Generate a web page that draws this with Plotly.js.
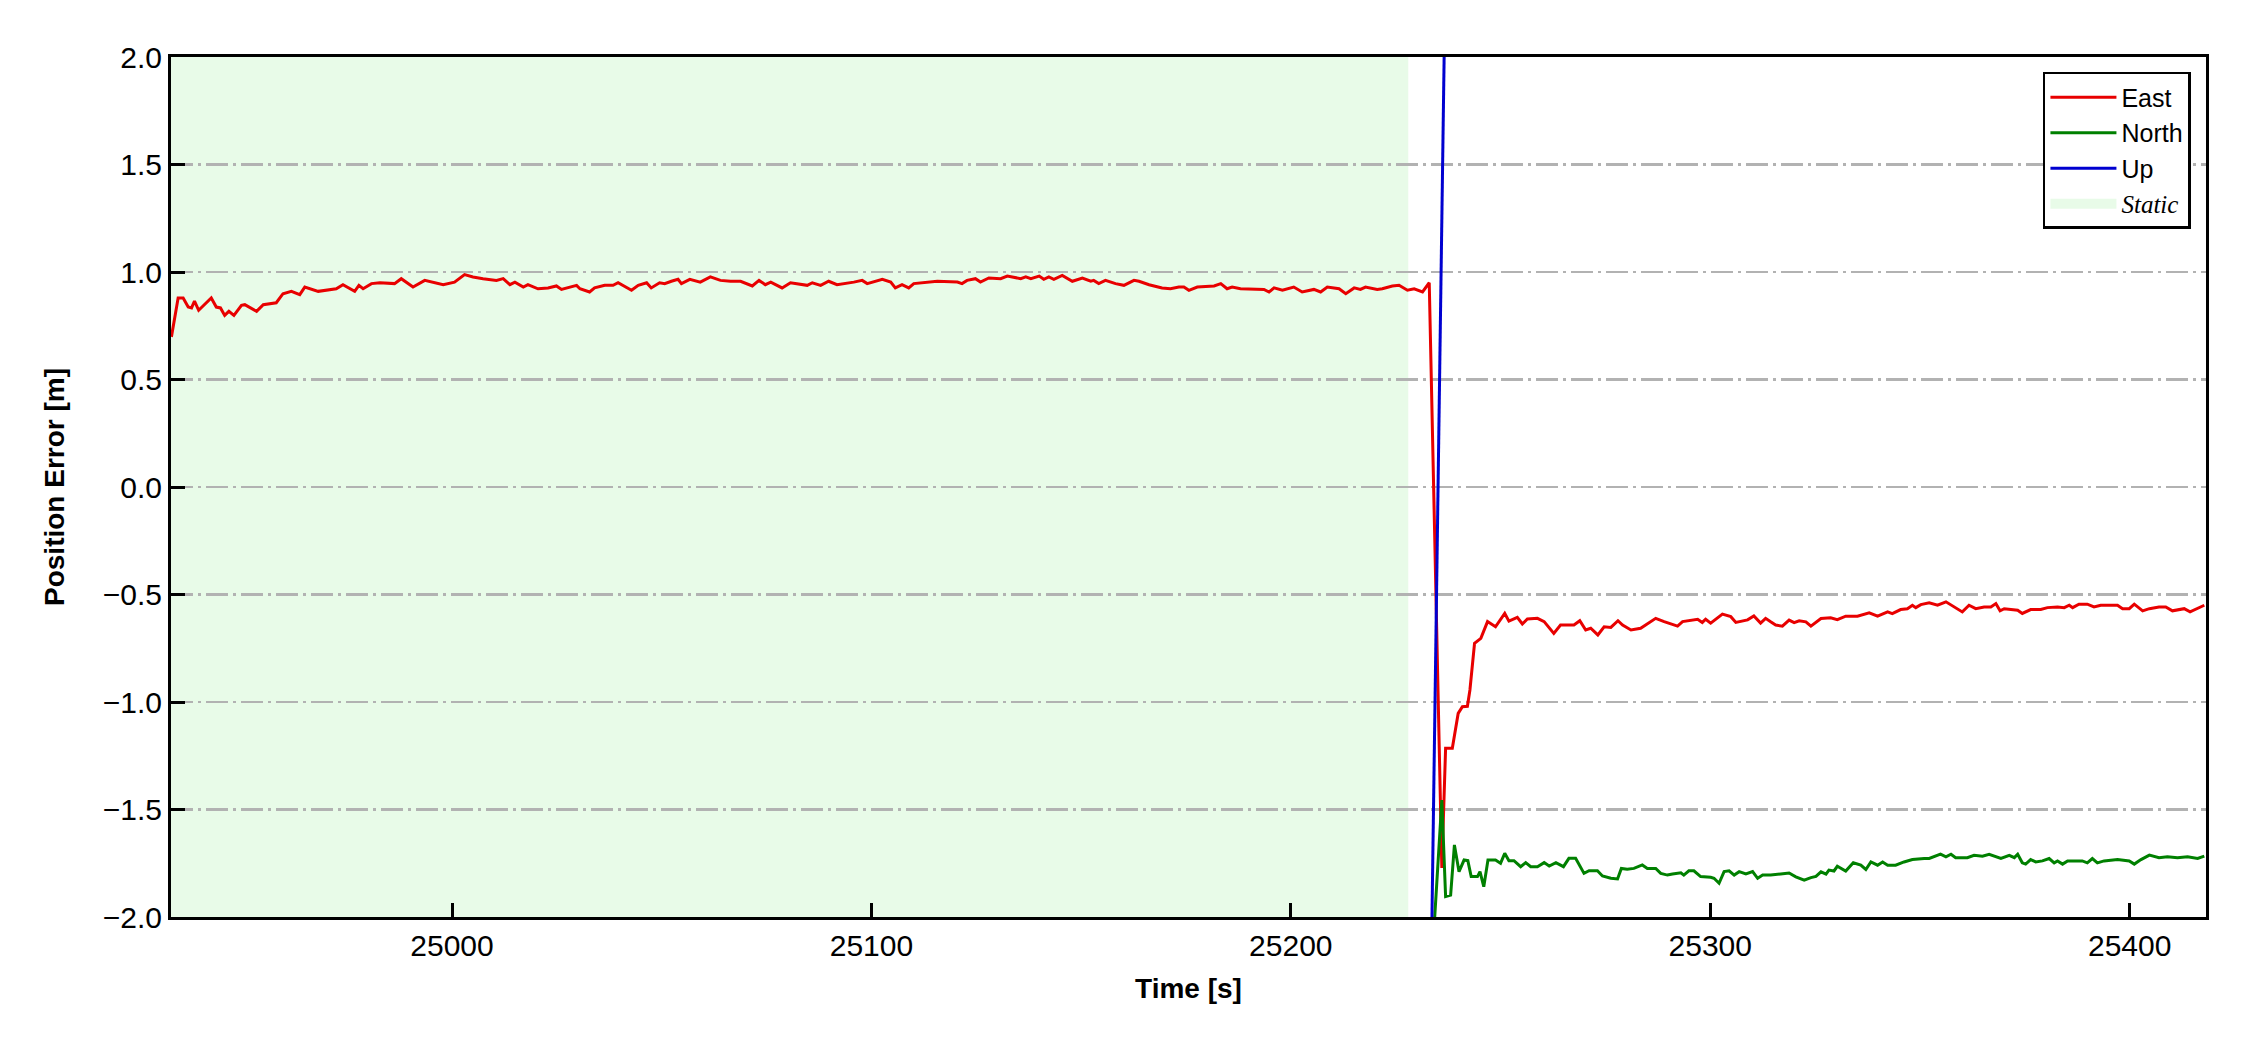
<!DOCTYPE html>
<html>
<head>
<meta charset="utf-8">
<script src="https://cdn.plot.ly/plotly-3.0.1.min.js"></script>
<style>html,body{margin:0;padding:0;background:#fff;}#chart{width:2250px;height:1050px;}</style>
</head>
<body>
<div id="chart"></div>
<script>
// ---- Data ----
const eastTime = [
  24933.1,24934.7,24935.9,24937.1,24937.9,24938.6,24939.6,24941.0,24942.6,24943.8,24944.8,24945.8,24946.8,24948.0,24949.8,24950.6,
  24953.4,24955.0,24958.1,24959.7,24961.7,24963.7,24964.9,24968.1,24972.4,24974.0,24976.8,24977.8,24978.8,24980.8,24982.8,24986.3,
  24987.9,24990.7,24993.5,24997.9,25000.6,25003.0,25005.0,25007.4,25010.6,25012.2,25013.8,25015.0,25017.0,25018.1,25020.5,25022.9,
  25024.9,25026.1,25028.5,25029.7,25030.5,25032.8,25034.0,25036.4,25038.4,25039.6,25042.8,25044.4,25046.4,25047.5,25049.5,25050.7,
  25052.3,25053.9,25054.7,25056.7,25059.2,25061.6,25064.0,25066.4,25068.8,25071.6,25073.2,25074.7,25076.0,25078.7,25080.7,25084.7,
  25085.9,25087.9,25089.8,25091.8,25095.8,25097.8,25099.0,25102.6,25104.6,25105.7,25107.3,25108.9,25110.1,25115.7,25120.5,25121.6,
  25122.8,25124.8,25126.0,25128.0,25130.8,25132.4,25135.6,25136.8,25138.0,25140.0,25141.1,25142.3,25143.5,25145.5,25147.9,25150.3,
  25152.3,25153.0,25154.2,25155.8,25158.2,25160.2,25162.6,25163.8,25166.2,25169.3,25171.3,25173.3,25174.5,25175.7,25177.7,25181.7,
  25183.3,25184.8,25186.0,25188.0,25193.6,25194.8,25196.0,25198.0,25200.7,25202.7,25205.5,25207.1,25208.7,25211.5,25213.1,25215.1,
  25216.6,25217.8,25220.6,25221.8,25224.2,25225.8,25227.8,25229.4,25231.4,25233.0,
  25236.0,25236.9,25238.5,25239.9,25240.9,25242.1,25242.7,25243.8,25245.3,25246.9,25248.8,25251.0,25252.0,25254.0,25255.2,25256.4,
  25258.8,25260.4,25262.7,25264.3,25267.5,25268.9,25270.3,25271.5,25273.2,25274.7,25276.3,25278.0,25279.1,25281.1,25283.4,25287.0,
  25289.0,25292.2,25293.4,25297.0,25298.1,25298.9,25300.1,25302.9,25304.9,25306.1,25308.9,25310.4,25312.0,25313.2,
  25314.4,25315.6,25317.2,25318.8,25320.0,25321.2,25322.8,25324.0,25326.4,25328.7,25330.3,25332.3,25335.1,25337.9,25339.9,25342.3,
  25343.4,25345.4,25347.0,25348.2,25349.0,25350.2,25352.2,25354.2,25356.2,25358.2,25360.1,25361.7,25363.3,25365.3,25366.9,25368.1,
  25369.1,25370.1,25373.3,25374.4,25376.4,25378.8,25380.4,25382.8,25384.4,25385.6,25386.4,25387.9,25389.9,25391.5,25393.1,25397.1,
  25398.3,25399.9,25401.1,25403.1,25404.7,25407.0,25408.6,25410.2,25413.0,25414.4,25416.2,25417.8
];
const eastError = [
  0.698,0.879,0.879,0.837,0.833,0.865,0.822,0.848,0.879,0.837,0.833,0.798,0.817,0.798,0.845,0.848,
  0.817,0.848,0.857,0.899,0.910,0.895,0.930,0.910,0.922,0.941,0.910,0.938,0.922,0.946,0.950,0.946,
  0.969,0.930,0.961,0.941,0.953,0.988,0.977,0.969,0.961,0.969,0.941,0.953,0.930,0.941,0.922,0.926,
  0.935,0.919,0.930,0.938,0.922,0.907,0.926,0.938,0.938,0.950,0.915,0.938,0.950,0.926,0.950,0.946,
  0.957,0.966,0.946,0.966,0.953,0.977,0.961,0.957,0.957,0.935,0.961,0.941,0.953,0.926,0.950,0.938,
  0.950,0.938,0.957,0.941,0.953,0.961,0.946,0.966,0.953,0.926,0.941,0.926,0.946,0.957,0.953,0.946,
  0.961,0.969,0.953,0.972,0.969,0.981,0.969,0.977,0.969,0.981,0.966,0.977,0.966,0.984,0.957,0.972,
  0.957,0.961,0.946,0.961,0.946,0.938,0.961,0.957,0.941,0.926,0.922,0.930,0.930,0.915,0.930,0.935,
  0.946,0.922,0.930,0.922,0.919,0.907,0.926,0.915,0.930,0.907,0.919,0.907,0.930,0.922,0.899,0.926,
  0.919,0.930,0.919,0.922,0.935,0.938,0.915,0.922,0.907,0.950,
  -1.772,-1.215,-1.215,-1.053,-1.022,-1.020,-0.944,-0.727,-0.704,-0.626,-0.650,-0.588,-0.624,-0.606,-0.637,-0.614,
  -0.611,-0.626,-0.681,-0.642,-0.642,-0.622,-0.665,-0.657,-0.688,-0.650,-0.653,-0.622,-0.642,-0.665,-0.657,-0.611,
  -0.626,-0.647,-0.626,-0.615,-0.630,-0.615,-0.633,-0.591,-0.603,-0.630,-0.618,-0.600,-0.633,-0.611,
  -0.627,-0.642,-0.647,-0.619,-0.631,-0.622,-0.627,-0.647,-0.612,-0.608,-0.617,-0.601,-0.601,-0.585,-0.601,-0.581,
  -0.589,-0.570,-0.566,-0.550,-0.561,-0.547,-0.539,-0.550,-0.534,-0.557,-0.581,-0.550,-0.566,-0.558,-0.558,-0.542,
  -0.576,-0.566,-0.573,-0.588,-0.570,-0.570,-0.561,-0.558,-0.561,-0.550,-0.561,-0.545,-0.545,-0.558,-0.550,-0.550,
  -0.566,-0.566,-0.545,-0.576,-0.566,-0.558,-0.558,-0.576,-0.566,-0.581,-0.566,-0.550
];
const northTime = [
  25233.0,25236.0,25236.9,25238.1,25239.0,25240.1,25241.3,25242.2,25243.0,25244.5,25245.1,25246.0,25247.0,25248.8,25250.0,25251.0,
  25252.0,25253.2,25254.8,25256.0,25257.2,25258.8,25260.4,25261.6,25263.2,25265.0,25266.3,25267.9,25269.9,25271.1,25273.1,25274.3,
  25276.3,25277.9,25278.8,25280.2,25281.8,25283.8,25285.0,25287.0,25288.2,25289.8,25291.0,25293.0,25293.7,25294.9,25296.1,25297.7,
  25300.1,25300.9,25302.1,25303.3,25304.5,25305.7,25306.9,25308.5,25310.1,25311.3,25312.5,
  25314.4,25316.8,25318.8,25320.4,25322.4,25324.0,25325.2,25326.4,25327.6,25328.3,25329.5,25330.3,25332.3,25334.1,25335.9,25337.1,
  25338.3,25339.9,25341.1,25342.3,25344.2,25346.2,25348.2,25351.0,25352.2,25354.9,25356.2,25357.4,25358.5,25361.3,25362.9,25364.9,
  25366.5,25369.3,25371.3,25372.5,25373.3,25374.4,25375.2,25376.4,25377.6,25379.2,25380.8,25382.0,25382.8,25384.0,25385.2,25388.7,
  25389.9,25391.1,25392.3,25393.9,25397.1,25399.9,25401.1,25402.7,25404.7,25407.0,25409.0,25411.4,25413.8,25416.2,25417.8
];
const northError = [
  -2.42,-1.456,-1.905,-1.898,-1.665,-1.789,-1.735,-1.738,-1.812,-1.812,-1.789,-1.859,-1.735,-1.735,-1.750,-1.704,
  -1.738,-1.738,-1.766,-1.747,-1.766,-1.766,-1.747,-1.763,-1.747,-1.766,-1.727,-1.727,-1.797,-1.785,-1.785,-1.809,
  -1.820,-1.823,-1.774,-1.778,-1.774,-1.758,-1.774,-1.774,-1.797,-1.805,-1.800,-1.794,-1.805,-1.785,-1.785,-1.812,
  -1.815,-1.820,-1.843,-1.789,-1.785,-1.805,-1.789,-1.800,-1.789,-1.820,-1.805,
  -1.805,-1.800,-1.795,-1.813,-1.829,-1.817,-1.811,-1.790,-1.801,-1.782,-1.786,-1.764,-1.786,-1.748,-1.759,-1.779,
  -1.744,-1.759,-1.744,-1.759,-1.759,-1.744,-1.733,-1.728,-1.728,-1.708,-1.720,-1.708,-1.724,-1.724,-1.713,-1.717,
  -1.708,-1.728,-1.713,-1.724,-1.708,-1.748,-1.754,-1.733,-1.744,-1.739,-1.728,-1.748,-1.739,-1.754,-1.739,-1.739,
  -1.748,-1.728,-1.748,-1.739,-1.733,-1.739,-1.754,-1.733,-1.712,-1.724,-1.720,-1.724,-1.720,-1.728,-1.717
];
const upTime = [25233.0, 25237.0];
const upError = [-2.90, 2.62];
const staticInterval = [24933.0, 25228.0];

const seriesNames = ['East', 'North', 'Up', 'Static'];
const xRange = [24933.0, 25418.2];
const yRange = [-2.0, 2.0];

const font = 'Liberation Sans, Arial, Helvetica, sans-serif';

const traces = [
  {x: [null], y: [null], type: 'scatter', mode: 'lines', name: '<span style="font-family:Liberation Serif, Times New Roman, serif;font-style:italic">' + seriesNames[3] + '</span>',
   line: {color: '#e8fbe8', width: 20}, legendrank: 4, hoverinfo: 'skip'},
  {x: eastTime, y: eastError, type: 'scatter', mode: 'lines', name: seriesNames[0], line: {color: '#e80000', width: 3}, legendrank: 1},
  {x: northTime, y: northError, type: 'scatter', mode: 'lines', name: seriesNames[1], line: {color: '#008000', width: 3}, legendrank: 2},
  {x: upTime, y: upError, type: 'scatter', mode: 'lines', name: seriesNames[2], line: {color: '#0000d0', width: 3}, legendrank: 3}
];

const layout = {
  width: 2250, height: 1050,
  margin: {l: 171, r: 44, t: 57, b: 133},
  paper_bgcolor: '#ffffff', plot_bgcolor: '#ffffff',
  font: {family: font, color: '#000'},
  showlegend: true,
  legend: {
    x: 0.9926, xanchor: 'right', y: 0.9826, yanchor: 'top',
    bgcolor: '#ffffff', bordercolor: '#000', borderwidth: 2.5,
    font: {family: font, size: 25, color: '#000'},
    itemwidth: 66, tracegroupgap: 0, traceorder: 'normal'
  },
  xaxis: {
    range: xRange, tick0: 0, dtick: 100, tickformat: 'd',
    ticks: 'inside', ticklen: 14, tickwidth: 3, tickcolor: '#000',
    showline: true, linewidth: 3, linecolor: '#000', mirror: true,
    showgrid: false, zeroline: false,
    tickfont: {family: font, size: 30, color: '#000'},
    title: {text: 'Time [s]', font: {family: font, size: 28, weight: 'bold', color: '#000'}, standoff: 18}
  },
  yaxis: {
    range: yRange, tick0: 0, dtick: 0.5, tickformat: '.1f',
    ticks: 'inside', ticklen: 14, tickwidth: 3, tickcolor: '#000',
    showline: true, linewidth: 3, linecolor: '#000', mirror: true,
    showgrid: true, gridcolor: '#b2b2b2', gridwidth: 2.2, griddash: '22px,5px,3px,5px',
    zeroline: false,
    tickfont: {family: font, size: 30, color: '#000'},
    title: {text: 'Position Error [m]', font: {family: font, size: 28, weight: 'bold', color: '#000'}, standoff: 30}
  },
  shapes: [{
    type: 'rect', xref: 'x', yref: 'y domain', layer: 'below',
    x0: staticInterval[0], x1: staticInterval[1], y0: 0, y1: 1,
    fillcolor: '#e8fbe8', line: {width: 0}
  }]
};

Plotly.newPlot('chart', traces, layout, {displayModeBar: false, staticPlot: true});
</script>
</body>
</html>
